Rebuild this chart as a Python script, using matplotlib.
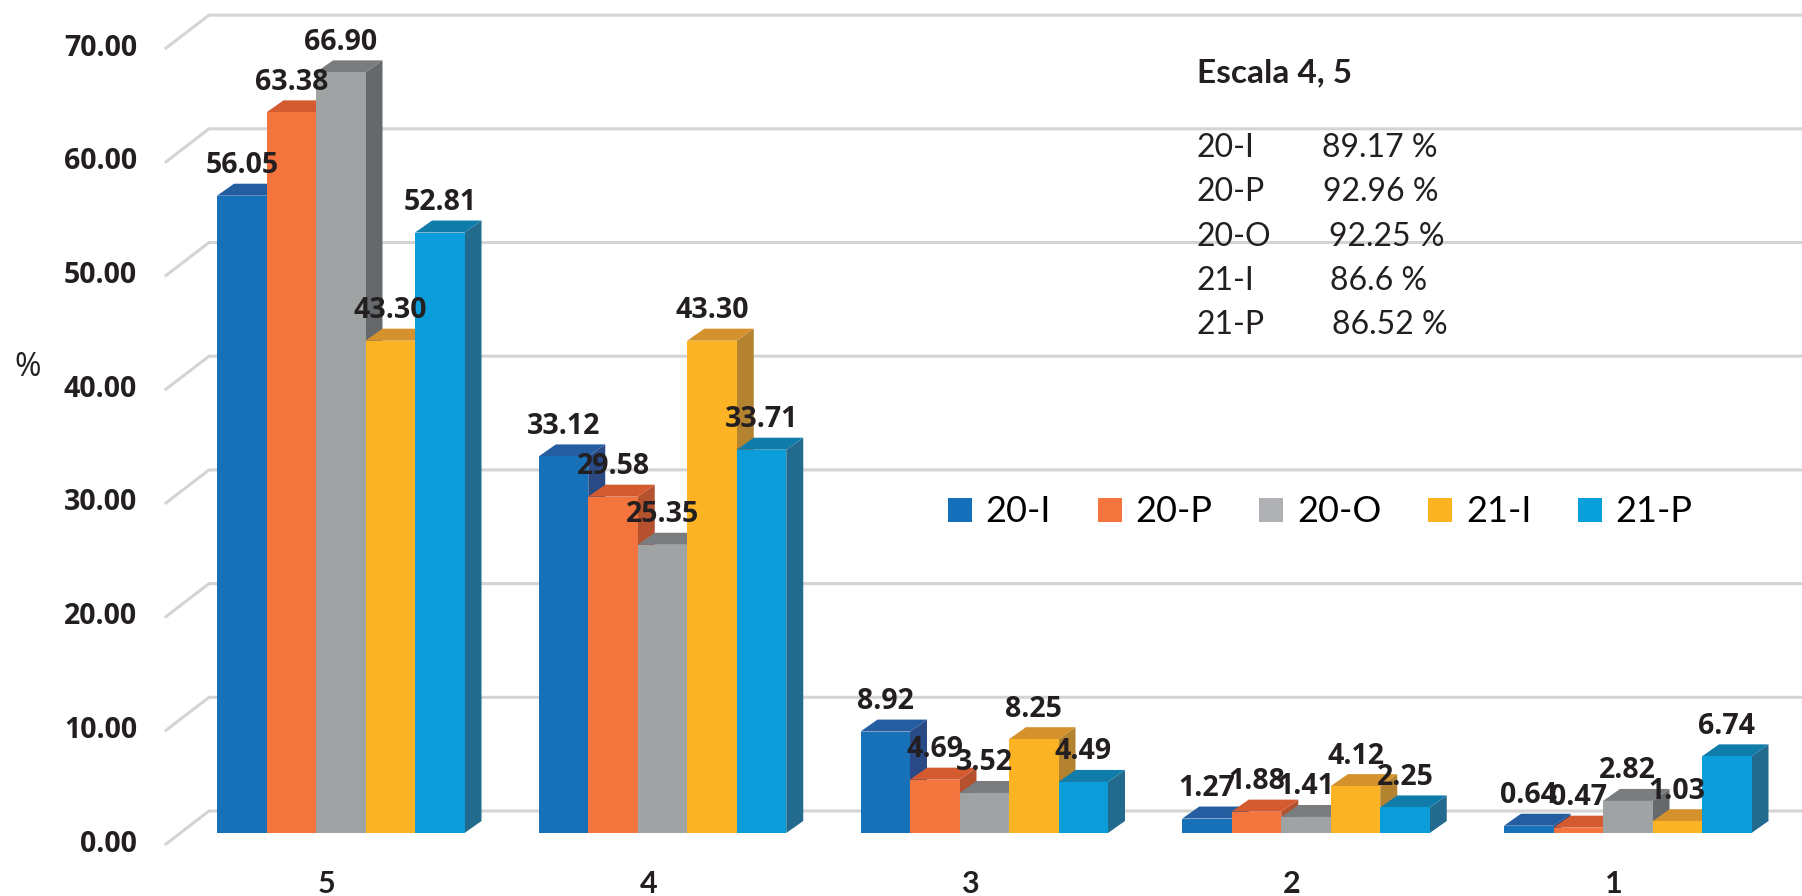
import matplotlib.pyplot as plt
from matplotlib.patches import Polygon, Patch

# data
categories = ["5", "4", "3", "2", "1"]
series = ["20-I", "20-P", "20-O", "21-I", "21-P"]
v_20I = [56.05, 33.12, 8.92, 1.27, 0.64]
v_20P = [63.38, 29.58, 4.69, 1.88, 0.47]
v_20O = [66.90, 25.35, 3.52, 1.41, 2.82]
v_21I = [43.30, 43.30, 8.25, 4.12, 1.03]
v_21P = [52.81, 33.71, 4.49, 2.25, 6.74]
all_values = [v_20I, v_20P, v_20O, v_21I, v_21P]
y_ticks = [0, 10, 20, 30, 40, 50, 60, 70]

summary_title = "Escala 4, 5"
summary_labels = ["20-I", "20-P", "20-O", "21-I", "21-P"]
summary_pcts = ["89.17 %", "92.96 %", "92.25 %", "86.6 %", "86.52 %"]

# colours: front face, top face, side face, legend swatch
front_c = ["#1771b9", "#f3743c", "#a0a3a4", "#fcb425", "#0a9dda"]
top_c = ["#245da0", "#d45a30", "#7a7d80", "#d4912c", "#0f7caa"]
side_c = ["#2a4a85", "#b5512e", "#66696c", "#b4832f", "#236b8e"]
legend_c = ["#156fba", "#f3743c", "#b0b1b5", "#fbb321", "#079fdc"]

# geometry (pixels of the 1802x896 canvas)
W, H = 1802, 896
PX_X = 49.5          # one bar width
PX_Y = 11.37         # one percent
GROUP_STEP = 6.5     # in bar widths
X0_PX = 340.75       # centre of first group
Y0_PX = 63           # bar base above bottom edge
DEPTH = (17, 12)     # bar depth offset
FRONT = (-14, -11)   # front plane relative to bar fronts
BACK = (29, 22)      # back wall relative to bar fronts
WALL_PX = 180        # left wall at bar-front depth

dxu = lambda px: px / PX_X
dyu = lambda px: px / PX_Y

fig = plt.figure(figsize=(W / 100, H / 100), dpi=100)
ax = fig.add_axes([0, 0, 1, 1])
ax.set_xlim(-X0_PX / PX_X, (W - X0_PX) / PX_X)
ax.set_ylim(-Y0_PX / PX_Y, (H - Y0_PX) / PX_Y)
ax.axis("off")

txt_c = "#231f20"
grid_c = "#d4d4d4"
wall_x = dxu(WALL_PX - X0_PX)
xmax = ax.get_xlim()[1]
for v in y_ticks:
    fx, fy = wall_x + dxu(FRONT[0]), v + dyu(FRONT[1])
    bx, by = wall_x + dxu(BACK[0]), v + dyu(BACK[1])
    ax.plot([fx, bx, xmax], [fy, by, by], color=grid_c, lw=2.2, zorder=1,
            solid_joinstyle="miter")
    ax.text(fx - dxu(29), fy, f"{v:.2f}", ha="right", va="center",
            fontsize=20.5, fontweight="bold", family="Open Sans", color=txt_c)

ddx, ddy = dxu(DEPTH[0]), dyu(DEPTH[1])
z = 2
for g in range(len(categories)):
    center = g * GROUP_STEP
    for i, vals in enumerate(all_values):
        v = vals[g]
        x0 = center - 2.5 + i
        x1 = x0 + 1
        side = [(x1, 0), (x1 + ddx, ddy), (x1 + ddx, v + ddy), (x1, v)]
        top = [(x0, v), (x1, v), (x1 + ddx, v + ddy), (x0 + ddx, v + ddy)]
        front = [(x0, 0), (x1, 0), (x1, v), (x0, v)]
        for pts, col in ((side, side_c[i]), (top, top_c[i]), (front, front_c[i])):
            ax.add_patch(Polygon(pts, closed=True, facecolor=col, lw=0, zorder=z))
            z += 1

for g, cat in enumerate(categories):
    center = g * GROUP_STEP
    ax.text(center + dxu(FRONT[0]), dyu(-51), cat, ha="center", va="center",
            fontsize=22, fontweight="bold", family="Lato", color=txt_c)
    for i, vals in enumerate(all_values):
        v = vals[g]
        ax.text(center - 2 + i, v + dyu(30), f"{v:.2f}", ha="center", va="center",
                fontsize=20.5, fontweight="bold", family="Open Sans",
                color=txt_c, zorder=500)

fig.text(28 / W, 1 - 368 / H, "%", ha="center", va="center", fontsize=23,
         family="Open Sans", color=txt_c)

# summary block
fig.text(1197 / W, 1 - 73 / H, summary_title, ha="left", va="center",
         fontsize=24, fontweight="bold", family="Lato", color=txt_c)
value_x = [1322, 1323, 1329, 1330, 1332]
for k, (lab, pct) in enumerate(zip(summary_labels, summary_pcts)):
    yy = 1 - (148 + 44.3 * k) / H
    fig.text(1197 / W, yy, lab, ha="left", va="center", fontsize=23,
             family="Lato", color=txt_c)
    fig.text(value_x[k] / W, yy, pct, ha="left", va="center", fontsize=23,
             family="Lato", color=txt_c)

handles = [Patch(facecolor=c, edgecolor="none") for c in legend_c]
fig.legend(handles, series, loc="center left", bbox_to_anchor=(948 / W, 1 - 512 / H),
           ncol=5, frameon=False, borderpad=0, borderaxespad=0,
           handlelength=0.66, handleheight=0.64, handletextpad=0.38,
           columnspacing=1.3, prop={"family": "Lato", "size": 26})

fig.savefig("out.png", dpi=100)
